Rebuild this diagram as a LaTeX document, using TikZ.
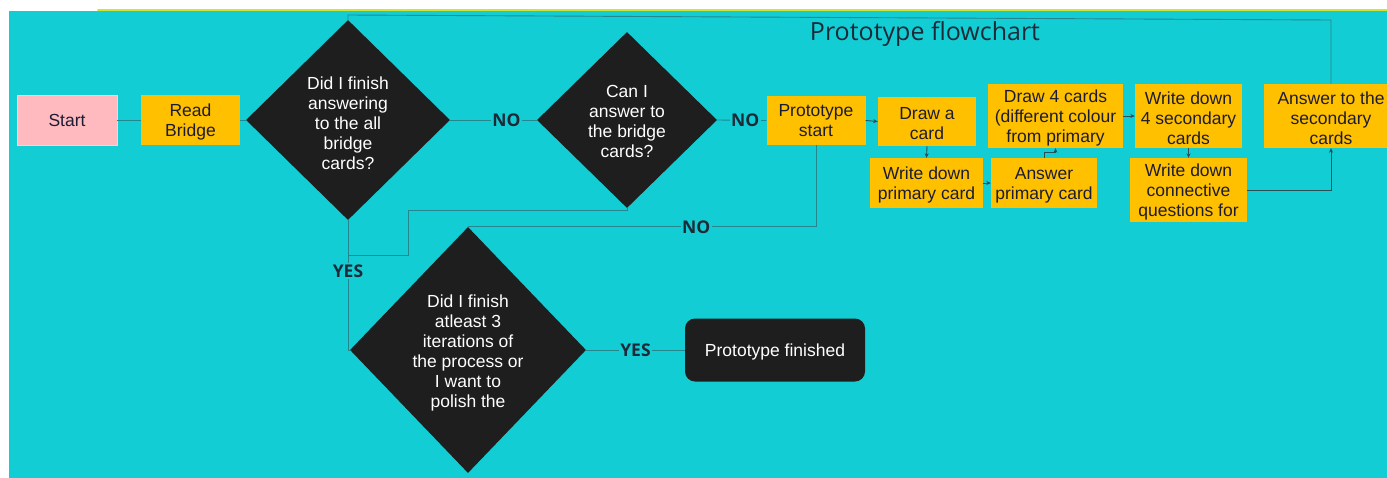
\documentclass[tikz,border=0pt]{standalone}
\usepackage{fontspec}
\setmainfont{Liberation Sans}
\newfontfamily\titlefont{Open Sans}
\usetikzlibrary{shapes.geometric,arrows.meta}
\definecolor{bgcyan}{RGB}{19,205,212}
\definecolor{cardor}{RGB}{255,192,0}
\definecolor{pinkc}{RGB}{255,186,192}
\definecolor{dk}{RGB}{30,30,30}
\definecolor{txtdark}{RGB}{28,28,52}
\definecolor{labc}{RGB}{30,42,56}
\definecolor{linec}{RGB}{36,135,142}
\definecolor{arrc}{RGB}{40,80,86}
\definecolor{topline}{RGB}{205,230,50}
\newcommand{\topstrut}{\rule{0pt}{16.8pt}}
\tikzset{
  boxtext/.style={font=\fontsize{17.5}{20}\selectfont, align=center},
  card/.style={boxtext, fill=cardor, text=txtdark, inner sep=0pt},
  startbox/.style={boxtext, fill=pinkc, draw=pinkc!70!white, text=txtdark, inner sep=0pt},
  dia/.style={shape=diamond, fill=dk, inner sep=0pt},
  diatext/.style={boxtext, text=white, inner sep=0pt},
  endbox/.style={boxtext, fill=dk, text=white, rounded corners=10pt, inner sep=0pt, execute at begin node={\rule{0pt}{16.5pt}}},
  conn/.style={draw=linec, line width=0.9pt},
  arr/.style={draw=arrc, line width=0.9pt, -{Stealth[length=4.5pt,width=4pt]}},
  lab/.style={font=\titlefont\bfseries\fontsize{17.5}{20}\selectfont, text=labc, fill=bgcyan, inner sep=1.5pt},
}
\begin{document}
\begin{tikzpicture}[x=1pt,y=-1pt]
\useasboundingbox (0,0) rectangle (1387,477);
\clip (0,0) rectangle (1387,477);
\fill[white] (0,0) rectangle (1387,477);
\fill[bgcyan] (9,10.5) rectangle (1390,480);
\draw[topline, line width=2pt, line cap=round] (98,10) -- (1390,10);

% title
\node[font=\titlefont\fontsize{25}{30}\selectfont, text=labc] (title) at (925,33.5) {Prototype flowchart};

% nodes
\node[startbox, minimum width=100pt, minimum height=50pt] (start) at (67,120) {Start};
\node[card, minimum width=99pt, minimum height=50pt] (read) at (190.5,120) {\topstrut Read\\Bridge};
\node[dia, minimum width=204pt, minimum height=200pt] (d1) at (348,120) {};
\node[diatext] (d1t) at (348,123) {Did I finish\\answering\\to the all\\bridge\\cards?};
\node[dia, minimum width=180pt, minimum height=176pt] (d2) at (627,120) {};
\node[diatext] (d2t) at (627,121.5) {Can I\\answer to\\the bridge\\cards?};
\node[card, minimum width=99pt, minimum height=49pt] (pstart) at (816,120.5) {Prototype\\start};
\node[card, minimum width=98pt, minimum height=49pt] (drawa) at (927,121.5) {\topstrut Draw a\\card};
\node[card, minimum width=113pt, minimum height=50pt] (wprim) at (926.5,183) {\topstrut Write down\\primary card};
\node[card, minimum width=106pt, minimum height=50pt] (aprim) at (1044,183) {\topstrut Answer\\primary card};
\node[card, minimum width=135pt, minimum height=64pt] (draw4) at (1055.5,116) {\topstrut Draw 4 cards\\(different colour\\from primary};
\node[card, minimum width=107pt, minimum height=64pt] (w4) at (1188.5,116) {\topstrut Write down\\4 secondary\\cards};
\node[card, minimum width=117pt, minimum height=64pt] (connq) at (1188.5,190) {\topstrut Write down\\connective\\questions for};
\node[card, minimum width=134pt, minimum height=64pt] (asec) at (1331,116) {\topstrut Answer to the\\secondary\\cards};
\node[dia, minimum width=236pt, minimum height=246pt] (d3) at (468,350) {};
\node[diatext] (d3t) at (468,353) {Did I finish\\atleast 3\\iterations of\\the process or\\I want to\\polish the};
\node[endbox, minimum width=180pt, minimum height=63pt] (pfin) at (775,350) {Prototype finished};

% helper coordinates
\coordinate (topR) at (0,20);
\coordinate (topL) at (0,15);
\coordinate (c1) at (408,210);
\coordinate (c2) at (408,255);

% connectors
\draw[conn] (start.east) -- (read.west);
\draw[conn] (read.east) -- (d1.west);
\draw[conn] (d1.east) -- node[lab, pos=0.65] (no1) {NO} (d2.west);
\draw[conn] (d2.east) -- node[lab, pos=0.57] (no2) {NO} (pstart.west);
\draw[arr] (pstart.east) -- (drawa.west);
\draw[arr] (drawa.south) -- (wprim.north);
\draw[arr] (wprim.east) -- (aprim.west);
\draw[arr] (aprim.north) -- ++(0,-5) -| (draw4.south);
\draw[arr] (draw4.east) -- (w4.west);
\draw[arr] (w4.south) -- (connq.north);
\draw[arr] (connq.east) -| (asec.south);
\draw[conn] (asec.north) -- (asec.north |- topR) -- (d1.north |- topL) -- (d1.north);
\draw[conn] (d2.south) -- (d2.south |- c1) -- (c1) -- (c2) -- (d1.south |- c2);
\draw[conn] (d1.south) -- node[lab, pos=0.39] (yes1) {YES} (d1.south |- d3.west) -- (d3.west);
\draw[conn] (pstart.south) |- node[lab, pos=0.672] (no3) {NO} (d3.north);
\draw[conn] (d3.east) -- node[lab, pos=0.5] (yes2) {YES} (pfin.west);
\end{tikzpicture}
\end{document}
